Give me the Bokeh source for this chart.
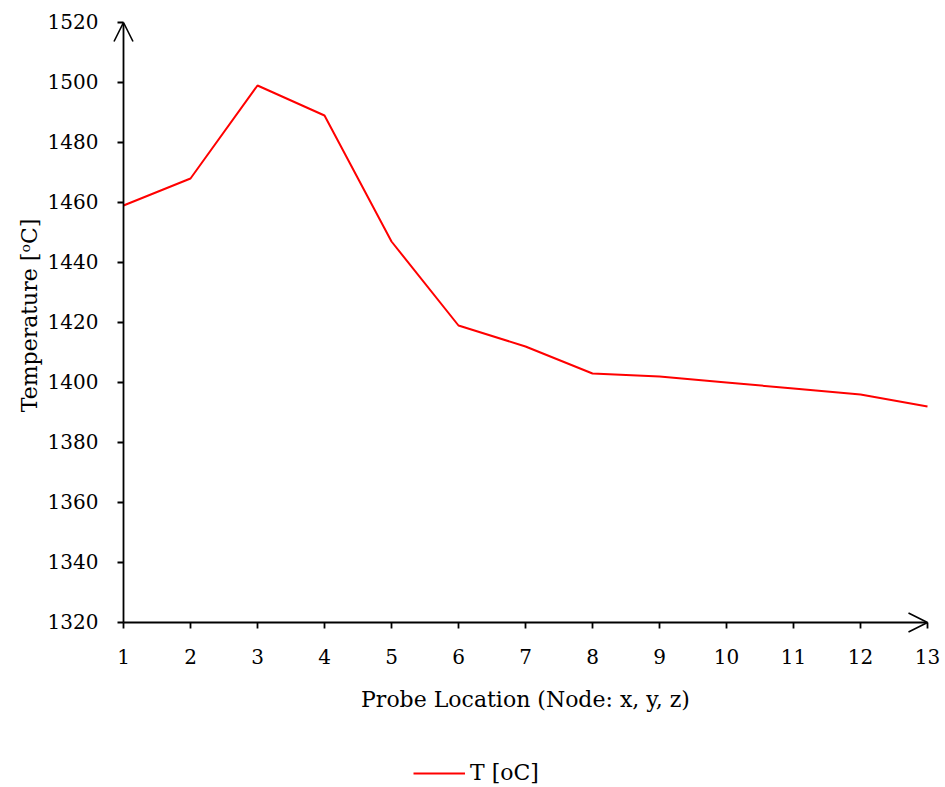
import math
from bokeh.plotting import figure
from bokeh.models import Range1d, Legend, LegendItem, Arrow, OpenHead
from bokeh.core.properties import value
from bokeh.embed import file_html
from bokeh.resources import INLINE

# ---- data ----
nodes = [1, 2, 3, 4, 5, 6, 7, 8, 9, 10, 11, 12, 13]
temps = [1459, 1468, 1499, 1489, 1447, 1419, 1412, 1403, 1402, 1400, 1398, 1396, 1392]
y_ticks = [1320, 1340, 1360, 1380, 1400, 1420, 1440, 1460, 1480, 1500, 1520]
x_labels = [str(n) for n in nodes]
y_labels = [str(t) for t in y_ticks]
series_name = "T [oC]"
x_title = "Probe Location (Node: x, y, z)"
y_title = "Temperature [\u1d52C]"

# ---- layout (pixels) ----
W, H = 945, 787
left, right, top, bottom = 123, 927, 22, 622
FONT = "DejaVu Serif"
TICK_FS = "20px"
TITLE_FS = "22px"
AX_W = 1.8

x0, x1 = nodes[0], nodes[-1]
y0, y1 = y_ticks[0], y_ticks[-1]
kx = (right - left) / (x1 - x0)
ky = (bottom - top) / (y1 - y0)

p = figure(width=W, height=H, output_backend="svg", toolbar_location=None,
           x_axis_type=None, y_axis_type=None, min_border=0,
           x_range=Range1d(x0 - left / kx, x1 + (W - right) / kx),
           y_range=Range1d(y0 - (H - bottom) / ky, y1 + top / ky))
p.outline_line_color = None
p.grid.visible = False
p.background_fill_color = "white"
p.border_fill_color = "white"

# data line
r = p.line(nodes, temps, line_color="#ff0000", line_width=2)

# axis lines with open arrow heads
p.add_layout(Arrow(end=OpenHead(size=19, line_width=1.6, line_color="black"),
                   x_start=x0, y_start=y0, x_end=x0, y_end=y1,
                   line_color="black", line_width=AX_W))
p.add_layout(Arrow(end=OpenHead(size=19, line_width=1.6, line_color="black"),
                   x_start=x0, y_start=y0, x_end=x1, y_end=y0,
                   line_color="black", line_width=AX_W))

# ticks
p.ray(x=[x0] * len(y_ticks), y=y_ticks, length=6, length_units="screen",
      angle=math.pi, line_color="black", line_width=AX_W)
p.ray(x=nodes, y=[y0] * len(nodes), length=6, length_units="screen",
      angle=-math.pi / 2, line_color="black", line_width=AX_W)

# tick labels
p.text(x=[x0] * len(y_ticks), y=y_ticks, text=y_labels, x_offset=-25, y_offset=-1,
       text_align="right", text_baseline="alphabetic",
       text_font=value(FONT), text_font_size=TICK_FS, text_color="black")
p.text(x=nodes, y=[y0] * len(nodes), text=x_labels, y_offset=34,
       text_align="center", text_baseline="alphabetic",
       text_font=value(FONT), text_font_size=TICK_FS, text_color="black")

# axis titles
p.text(x=[(x0 + x1) / 2], y=[y0], text=[x_title], y_offset=77,
       text_align="center", text_baseline="alphabetic",
       text_font=value(FONT), text_font_size=TITLE_FS, text_color="black")
p.text(x=[x0], y=[(y0 + y1) / 2], text=[y_title], x_offset=-94, y_offset=-7,
       angle=math.pi / 2,
       text_align="center", text_baseline="alphabetic",
       text_font=value(FONT), text_font_size=TITLE_FS, text_color="black")

legend = Legend(items=[LegendItem(label=series_name, renderers=[r])],
                location=(413, 2), orientation="horizontal",
                border_line_color=None, background_fill_alpha=0,
                label_text_font=FONT, label_text_font_size=TITLE_FS,
                label_text_color="black",
                glyph_width=52, label_standoff=5, margin=0, padding=0)
p.add_layout(legend, "center")

open("out.html", "w").write(file_html(p, INLINE))
